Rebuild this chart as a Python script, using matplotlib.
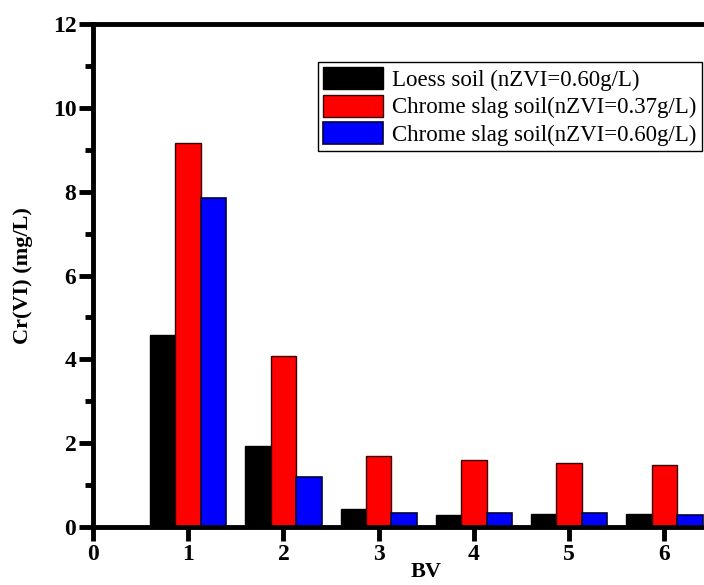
import numpy as np
import matplotlib.pyplot as plt
from matplotlib.ticker import MultipleLocator

plt.rcParams['font.family'] = ['Liberation Serif', 'DejaVu Serif']

bv = [1, 2, 3, 4, 5, 6]
loess_060 = [4.57, 1.94, 0.44, 0.29, 0.31, 0.31]
slag_037 = [9.16, 4.08, 1.70, 1.60, 1.52, 1.49]
slag_060 = [7.84, 1.20, 0.33, 0.33, 0.33, 0.28]
labels = ["Loess soil (nZVI=0.60g/L)",
          "Chrome slag soil(nZVI=0.37g/L)",
          "Chrome slag soil(nZVI=0.60g/L)"]

fig = plt.figure(figsize=(7.04, 5.85), dpi=100)
# axes run past the right edge of the figure, like the cropped original
ax = fig.add_axes([0.132, 0.099, 0.947, 0.860])

x = np.array(bv)
w = 0.267
ax.bar(x - w, loess_060, w, color='black', edgecolor='black', lw=1, label=labels[0])
ax.bar(x, slag_037, w, color='#ff0000', edgecolor='#3a0000', lw=1, label=labels[1])
ax.bar(x + w, slag_060, w, color='#0000ff', edgecolor='#000040', lw=1.2, label=labels[2])

ax.set_xlim(0, 7)
ax.set_ylim(0, 12)
ax.set_xticks([0] + bv)
ax.yaxis.set_major_locator(MultipleLocator(2))
ax.yaxis.set_minor_locator(MultipleLocator(1))

for s in ['left', 'bottom', 'top']:
    ax.spines[s].set_linewidth(3.5)
ax.spines['right'].set_visible(False)

ax.tick_params(axis='both', which='major', direction='out', length=10, width=3.5,
               labelsize=17, pad=2)
ax.tick_params(axis='y', which='minor', direction='out', length=6, width=3.5)
for t in ax.get_xticklabels() + ax.get_yticklabels():
    t.set_fontweight('bold')

ax.set_xlabel('BV', fontsize=16, fontweight='bold', labelpad=-2)
ax.set_ylabel('Cr(VI) (mg/L)', fontsize=16, fontweight='bold', labelpad=14)

leg = ax.legend(loc='upper left', bbox_to_anchor=(0.337, 0.925), fontsize=16.5,
                frameon=True, fancybox=False, edgecolor='black', framealpha=1,
                handlelength=2.6, handleheight=1.1, handletextpad=0.4,
                labelspacing=0.15, borderpad=0.25, borderaxespad=0)
leg.get_frame().set_linewidth(1)

fig.savefig('out.png', dpi=100)
